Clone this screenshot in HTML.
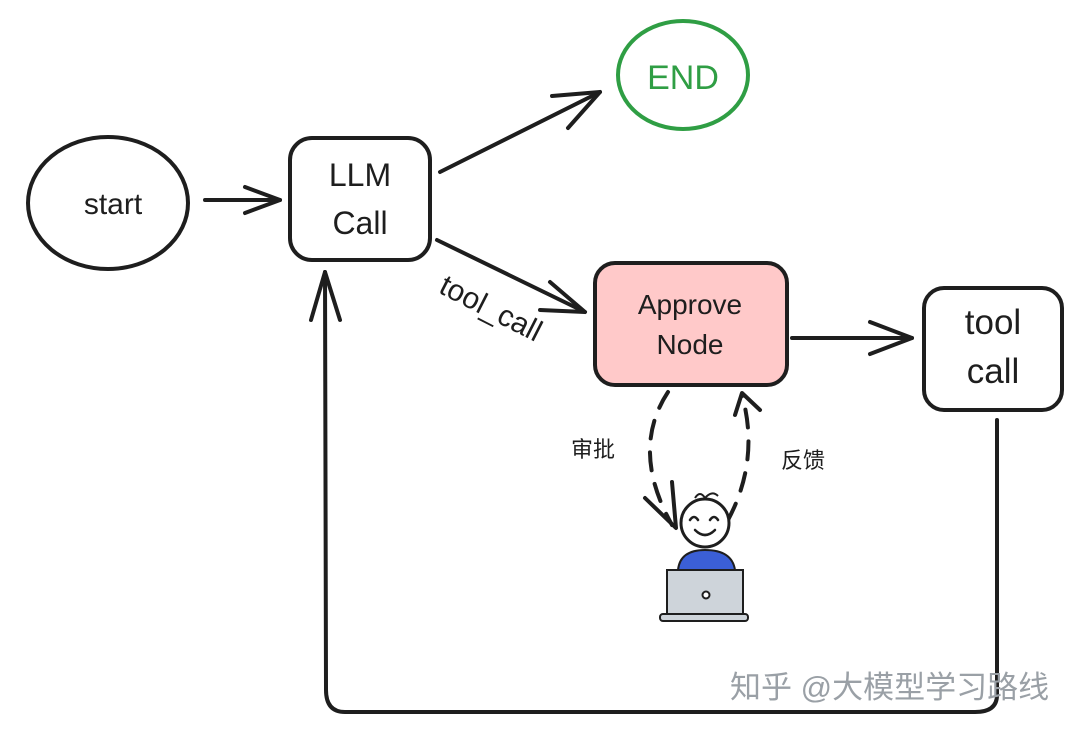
<!DOCTYPE html>
<html><head><meta charset="utf-8"><style>
html,body{margin:0;padding:0;background:#fff;}
svg{display:block}
text{font-family:"Liberation Sans","Noto Sans CJK SC",sans-serif;}
.h{font-family:"Comic Sans MS","Liberation Sans",sans-serif;}
</style></head><body>
<svg width="1080" height="732" viewBox="0 0 1080 732" xmlns="http://www.w3.org/2000/svg">
<g fill="none" stroke="#1e1e1e" stroke-width="4" stroke-linecap="round" stroke-linejoin="round">
<ellipse cx="108" cy="203" rx="80" ry="66"/>
<line x1="205" y1="200" x2="280" y2="200"/>
<polyline points="245,187 280,200 245,213"/>
<rect x="290" y="138" width="140" height="122" rx="22"/>
<line x1="440" y1="172" x2="600" y2="92"/>
<polyline points="552,96 600,92 568,128"/>
<line x1="437" y1="240" x2="585" y2="312"/>
<polyline points="550,282 585,312 540,310"/>
<rect x="595" y="263" width="192" height="122" rx="20" fill="#ffc9c9"/>
<line x1="792" y1="338" x2="912" y2="338"/>
<polyline points="870,322 912,338 870,354"/>
<rect x="924" y="288" width="138" height="122" rx="20"/>
<path d="M997,420 L997,695 Q997,712 975,712 L345,712 Q326,712 326,690 L325,272"/>
<polyline points="311,320 325,272 340,320"/>
<path d="M668,392 Q630,450 672,525" stroke-dasharray="18,14"/>
<polyline points="645,498 676,528 672,482"/>
<path d="M728,520 Q760,460 742,395" stroke-dasharray="18,14"/>
<polyline points="735,415 742,393 760,410"/>
</g>
<ellipse cx="683" cy="75" rx="65" ry="54" fill="none" stroke="#2f9e44" stroke-width="4"/>
<path d="M678,570 Q680,550 705,550 Q732,550 735,570 Z" fill="#3b5fd6" stroke="#1e1e1e" stroke-width="2"/>
<circle cx="705" cy="523" r="24" fill="#fff" stroke="#1e1e1e" stroke-width="3"/>
<path d="M695,498 Q700,490 705,498 M705,498 Q712,490 718,496" fill="none" stroke="#1e1e1e" stroke-width="2"/>
<path d="M690,520 Q694,514 698,520 M710,520 Q714,514 718,520 M695,530 Q705,540 715,530" fill="none" stroke="#1e1e1e" stroke-width="2.5" stroke-linecap="round"/>
<rect x="667" y="570" width="76" height="45" fill="#ced4da" stroke="#1e1e1e" stroke-width="2"/>
<rect x="660" y="614" width="88" height="7" rx="3" fill="#ced4da" stroke="#1e1e1e" stroke-width="2"/>
<circle cx="706" cy="595" r="3.5" fill="#fff" stroke="#1e1e1e" stroke-width="2"/>
<g class="h" fill="#1e1e1e" text-anchor="middle">
<text x="113" y="214" font-size="30">start</text>
<text x="360" y="186" font-size="32">LLM</text>
<text x="360" y="234" font-size="32">Call</text>
<text x="690" y="314" font-size="28">Approve</text>
<text x="690" y="354" font-size="28">Node</text>
<text x="993" y="334" font-size="35">tool</text>
<text x="993" y="383" font-size="35">call</text>
<text x="683" y="89" font-size="34" fill="#2f9e44">END</text>
<text x="490" y="318" font-size="30" transform="rotate(27 490 310)">tool_call</text>
</g>
<text x="593" y="457" font-size="22" fill="#1e1e1e" text-anchor="middle">审批</text>
<text x="803" y="468" font-size="22" fill="#1e1e1e" text-anchor="middle">反馈</text>
<text x="730" y="698" font-size="31" fill="#9aa0a6">知乎 @大模型学习路线</text>
</svg>
</body></html>
